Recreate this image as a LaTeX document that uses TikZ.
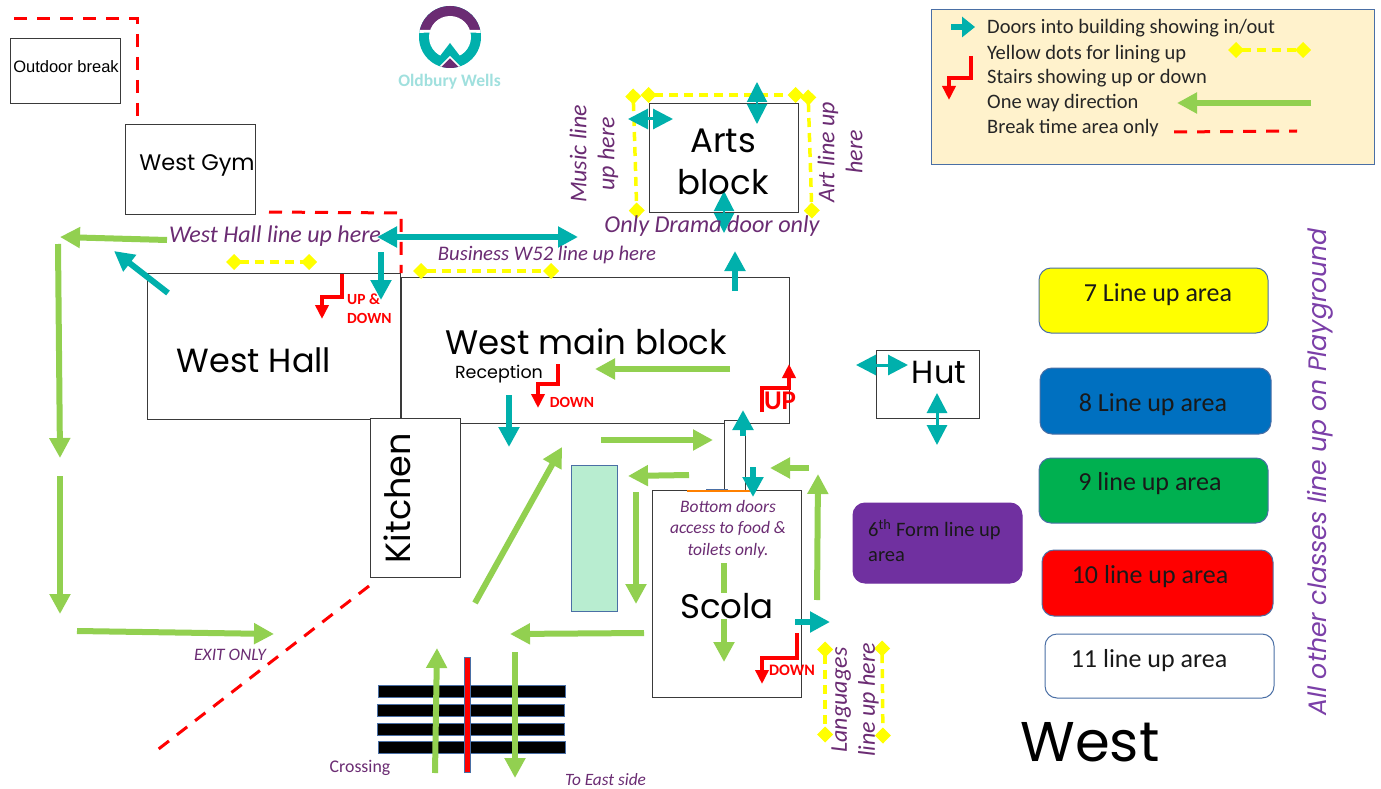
\documentclass[tikz,border=0pt]{standalone}
\usepackage{fontspec}
\setmainfont{Carlito}
\newfontfamily\gothic{Poppins}
\newcommand\fs[1]{\fontsize{#1}{#1}\selectfont}
\usetikzlibrary{arrows.meta}
\definecolor{grn}{HTML}{92D050}
\definecolor{teal1}{HTML}{00B0AC}
\definecolor{purp}{HTML}{6B2C73}
\definecolor{logopurp}{HTML}{6B2C73}
\definecolor{yel}{HTML}{FFFF00}
\definecolor{edge}{HTML}{3A3A3A}
\definecolor{blueedge}{HTML}{4A6FA5}
\definecolor{panelgreen}{HTML}{B8EDD0}
\definecolor{legendbg}{HTML}{FFF2CC}
\definecolor{logotext}{HTML}{A0E0DE}
\definecolor{area8}{HTML}{0070C0}
\definecolor{area9}{HTML}{00B050}
\definecolor{area6}{HTML}{7030A0}
\definecolor{playtext}{HTML}{7B3FA8}
\tikzset{
  bldg/.style={draw=edge,line width=1pt,fill=white,inner sep=0pt,anchor=center},
  area/.style={draw=#1,line width=1pt,rounded corners=12pt,inner sep=0pt},
  bigtext/.style={font=\gothic\fs{#1},text=black,inner sep=0pt},
  note/.style={font=\itshape\fs{#1},text=purp,inner sep=0pt,align=center},
  areatext/.style={font=\fs{26},text=black!90,inner sep=0pt},
  legendtext/.style={font=\fs{20.5},text=black!85,inner sep=0pt,anchor=west},
  redtext/.style={font=\bfseries\fs{#1},text=red,inner sep=0pt,align=left},
  garrow/.style={draw=grn,line width=6pt,-{Triangle[width=20pt,length=20pt,fill=grn]}},
  tarrow/.style={draw=teal1,line width=6pt,-{Triangle[width=20pt,length=20pt,fill=teal1]}},
  tdouble/.style={draw=teal1,line width=#1,{Triangle[width=20pt,length=20pt,fill=teal1]}-{Triangle[width=20pt,length=20pt,fill=teal1]}},
  stairs/.style={draw=red,line width=3.5pt,-{Triangle[width=13pt,length=14pt,fill=red]}},
  yline/.style={draw=yel,line width=3.5pt,dash pattern=on 9pt off 6pt,{Turned Square[width=16pt,length=16pt,fill=yel]}-{Turned Square[width=16pt,length=16pt,fill=yel]}},
  rline/.style={draw=red,line width=3pt,dash pattern=on 13pt off 10pt},
  bar/.style={draw=blueedge,line width=1pt,inner sep=0pt},
}
\newcommand\conn[4]{\coordinate (#1a) at #3; \coordinate (#1b) at #4; \draw[#2] (#1a) -- (#1b);}
\newcommand\stair[5]{\coordinate (#1a) at #2; \coordinate (#1b) at #3; \coordinate (#1c) at #4; \coordinate (#1d) at #5; \draw[stairs] (#1a) -- (#1b) -- (#1c) -- (#1d);}
\begin{document}
\begin{tikzpicture}[x=1pt,y=-1pt]
\useasboundingbox (0,0) rectangle (1381,789);
\fill[white] (0,0) rectangle (1381,789);

% buildings
\node[bldg,minimum width=110pt,minimum height=65pt] (outdoor) at (65.5,71.5) {};
\node[bldg,minimum width=130pt,minimum height=89pt] (gym) at (190.5,169.5) {};
\node[bldg,minimum width=253pt,minimum height=146pt] (hall) at (274,346.5) {};
\node[bldg,minimum width=388pt,minimum height=146pt] (main) at (595,350.5) {};
\node[bldg,minimum width=21pt,minimum height=70pt] (passage) at (735,455.5) {};
\node[bldg,minimum width=90pt,minimum height=159pt] (kitchen) at (415.5,498) {};
\node[bldg,minimum width=149pt,minimum height=207pt] (scola) at (727,594) {};
\node[bldg,minimum width=103pt,minimum height=68pt] (hut) at (928,384.5) {};
\node[bldg,minimum width=149pt,minimum height=109pt] (arts) at (724,158) {};
\fill[blueedge] (706,488.5) rectangle (728,491);
\draw[orange,line width=1.2pt] (687,491) -- (750,491);

\node[bar,fill=panelgreen,minimum width=46pt,minimum height=146pt] (panel) at (594,538) {};

% legend
\node[draw=blueedge,line width=1pt,fill=legendbg,minimum width=443pt,minimum height=154pt,inner sep=0pt] (legend) at (1152.5,87) {};
\node[legendtext] (l1) at (987,28) {Doors into building showing in/out};
\node[legendtext] (l2) at (987,54) {Yellow dots for lining up};
\node[legendtext] (l3) at (987,78) {Stairs showing up or down};
\node[legendtext] (l4) at (987,103) {One way direction};
\node[legendtext] (l5) at (987,128) {Break time area only};
\conn{lt}{tarrow,-{Triangle[width=20pt,length=13pt,fill=teal1]}}{(951,27)}{(975,27)}
\conn{ly}{yline}{(1228,50)}{(1311,50)}
\stair{ls}{(971,56)}{(971,78)}{(949,78)}{(949,100)}
\conn{lg}{garrow}{(1311,103)}{(1177,103)}
\conn{lr}{rline}{(1174,132)}{(1297,131)}

% logo
\begin{scope}
\fill[teal1] (450,37) circle[radius=31];
\begin{scope}
\clip (450,37) circle[radius=31];
\fill[logopurp] (415,0) rectangle (485,30);
\fill[white] (415,30) -- (450,30) -- (450,32) -- (415,33) -- cycle;
\fill[white] (450,30) -- (485,30) -- (485,33) -- (450,32) -- cycle;
\end{scope}
\fill[white] (450,37) circle[radius=21];
\fill[teal1] (450,43) -- (437,60) -- (463,60) -- cycle;
\begin{scope}
\clip (450,37) circle[radius=31];
\fill[logopurp,draw=white,line width=1.5pt] (450,57) -- (436,71) -- (464,71) -- cycle;
\end{scope}
\end{scope}
\node[font=\bfseries\fs{17.5},text=logotext,inner sep=0pt] (oldbury) at (449.5,82) {Oldbury Wells};

% colored areas
\node[area=blueedge,fill=yel,minimum width=229pt,minimum height=65pt] (a7) at (1153.5,300.5) {};
\node[area=blueedge,fill=area8,minimum width=231pt,minimum height=66pt] (a8) at (1155.5,401) {};
\node[area=blueedge,fill=area9,minimum width=229pt,minimum height=65pt] (a9) at (1153.5,490.5) {};
\node[area=blueedge,fill=red,minimum width=231pt,minimum height=66pt] (a10) at (1157.5,583) {};
\node[area=blueedge,fill=white,minimum width=229pt,minimum height=64pt] (a11) at (1159.5,666) {};
\node[area=area6,fill=area6,minimum width=169pt,minimum height=80pt] (a6) at (937.5,543) {};
\node[areatext] (t7) at (1158,295) {7 Line up area};
\node[areatext] (t8) at (1153,405) {8 Line up area};
\node[areatext] (t9) at (1150,484) {9 line up area};
\node[areatext] (t10) at (1150,577) {10 line up area};
\node[areatext] (t11) at (1149,661) {11 line up area};
\node[font=\fs{20.5},text=black!90,inner sep=0pt,anchor=north west,align=left] (t6) at (868,519) {6\textsuperscript{th} Form line up\\[4.5pt]area};

% crossing
\node[bar,fill=black,minimum width=187pt,minimum height=12pt] (c1) at (471.5,691) {};
\node[bar,fill=black,minimum width=187pt,minimum height=12pt] (c2) at (470.5,710) {};
\node[bar,fill=black,minimum width=187pt,minimum height=12pt] (c3) at (470.5,729) {};
\node[bar,fill=black,minimum width=187pt,minimum height=12pt] (c4) at (471.5,747.5) {};
\node[bar,fill=red,minimum width=6pt,minimum height=115pt] (divider) at (467.5,714.5) {};

% red dashed
\coordinate (r1a) at (14,19); \coordinate (r1b) at (137,19);
\draw[rline] (r1a) -- (r1b) -- (gym.north west -| r1b);
\coordinate (r2a) at (269,212); \coordinate (r2b) at (401,213);
\draw[rline] (r2a) -- (r2b) -- (hall.north east);
\conn{r3}{rline}{(369,586)}{(156,751)}

% yellow lines
\conn{y1}{yline}{(226,262)}{(317,262)}
\conn{y2}{yline}{(413,271)}{(559,271)}
\conn{y3}{yline}{(640.5,95)}{(803.5,95)}
\conn{y4}{yline}{(633,88.5)}{(637,218.5)}
\conn{y5}{yline}{(808,89.5)}{(812,218.5)}
\conn{y6}{yline}{(825,641.5)}{(825,742.5)}
\conn{y7}{yline}{(882,640.5)}{(883,743.5)}

% green arrows
\conn{g1}{garrow}{(167,240)}{(60,237)}
\conn{g2}{garrow}{(58,244)}{(60,458)}
\conn{g3}{garrow}{(60,476)}{(60,614)}
\conn{g4}{garrow}{(77,631)}{(274,634)}
\conn{g5}{garrow}{(475,603)}{(562,447)}
\conn{g6}{garrow}{(601,440)}{(713,440)}
\conn{g7}{garrow}{(689,475)}{(628,476)}
\conn{g8}{garrow}{(636,492)}{(636,604)}
\conn{g9}{garrow}{(644,633)}{(510,634)}
\conn{g10}{garrow}{(515,652)}{(515,778)}
\conn{g11}{garrow}{(435,773)}{(437,648)}
\conn{g12}{garrow}{(730,369)}{(595,369)}
\conn{g13}{garrow}{(809,468)}{(770,468)}
\conn{g14}{garrow}{(817,600)}{(818,474)}
\conn{g15}{garrow}{(724,563)}{(724,662)}

% teal arrows
\conn{t1}{tdouble=2pt}{(757,82)}{(757,124)}
\conn{t2}{tdouble=3pt}{(628,119)}{(673,119)}
\conn{t3}{tdouble=2pt}{(724,191)}{(724,233)}
\conn{t4}{tarrow}{(735,291)}{(735,251)}
\conn{t5}{tdouble=6pt}{(377,237)}{(578,237)}
\conn{t6}{tarrow}{(381,252)}{(381,300)}
\conn{t7}{tarrow}{(168,293)}{(114,251)}
\conn{t8}{tarrow}{(509,395)}{(509,447)}
\conn{t9}{tarrow}{(743,436)}{(743,410)}
\conn{t10}{tarrow}{(753,467)}{(753,497)}
\conn{t11}{tdouble=3pt}{(856,365)}{(908,365)}
\conn{t12}{tdouble=3pt}{(937,393)}{(937,445)}
\conn{t13}{tarrow}{(795,622)}{(830,622)}

% stairs
\stair{s1}{(342,274)}{(342,297)}{(322,297)}{(322,319)}
\stair{s2}{(558,364)}{(558,384)}{(538,384)}{(538,408)}
\stair{s3}{(762,412)}{(762,388)}{(789,388)}{(789,364)}
\stair{s4}{(797,633)}{(797,658)}{(762,658)}{(762,684)}

% big labels
\node[font=\fontspec{Liberation Sans}\fs{16.5},inner sep=0pt] (txtout) at (66,67) {Outdoor break};
\node[bigtext=22.5] (txtgym) at (197,165) {West Gym};
\node[bigtext=34,align=center] (txtarts) at (723,162) {Arts\\[8pt]block};
\node[bigtext=33.5] (txthall) at (254,360) {West Hall};
\node[bigtext=34] (txtmain) at (586,342) {West main block};
\node[bigtext=17.5] (txtrec) at (499,374) {Reception};
\node[bigtext=35,rotate=90] (txtkit) at (397,498) {Kitchen};
\node[bigtext=32] (txthut) at (939,372) {Hut};
\node[bigtext=34,fill=white] (txtsco) at (727,606) {Scola};
\node[bigtext=56] (txtwest) at (1090,742) {West};

% notes
\node[note=24] (nhall) at (275,236) {West Hall line up here};
\node[note=20.7] (nbus) at (547,255) {Business W52 line up here};
\node[note=24.2] (ndrama) at (712,226) {Only Drama door only};
\node[note=24,rotate=90] (nmusic) at (594,154) {Music line\\[4pt]up here};
\node[note=24,rotate=90] (nart) at (840,152) {Art line up\\[4pt]here};
\node[note=24,rotate=90] (nlang) at (855,700) {Languages\\[4pt]line up here};
\node[note=17.5] (nbottom) at (728,529) {Bottom doors\\[4pt]access to food \&\\[4pt]toilets only.};
\node[note=17.5] (nexit) at (230,655) {EXIT ONLY};
\node[note=17.3] (neast) at (605.5,780) {To East side};
\node[font=\fs{17.8},text=purp,inner sep=0pt] (ncross) at (360,768) {Crossing};
\node[font=\gothic\itshape\fs{25.2},text=playtext,rotate=90,inner sep=0pt] (nplay) at (1320,472) {All other classes line up on Playground};

% red labels
\node[redtext=15.5,anchor=north west] (rud) at (347,294) {UP \&\\[3pt]DOWN};
\node[redtext=15.5] (rd1) at (572,402) {DOWN};
\node[redtext=27] (rup) at (780,401) {UP};
\node[redtext=16] (rd2) at (792,670) {DOWN};
\end{tikzpicture}
\end{document}
